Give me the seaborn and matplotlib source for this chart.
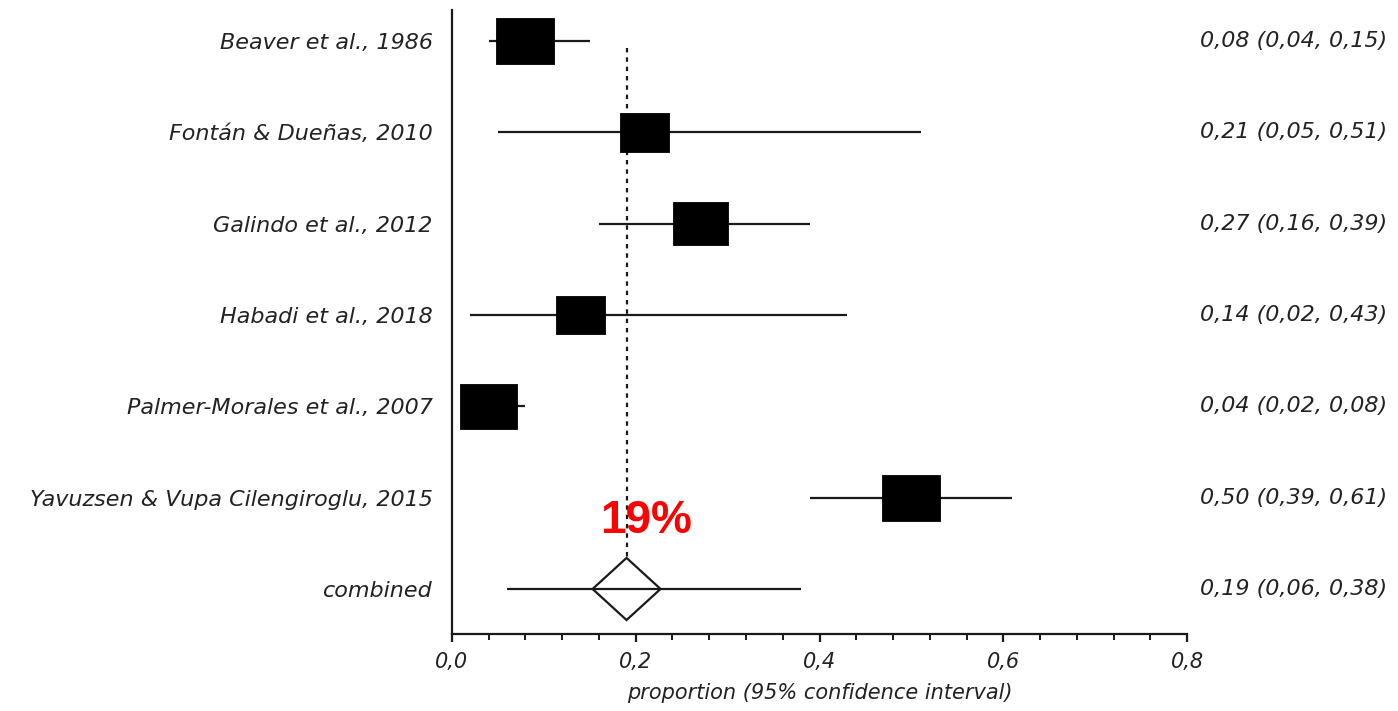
import numpy as np
import pandas as pd
import matplotlib
matplotlib.use("Agg")
import matplotlib.pyplot as plt
import matplotlib.transforms as mtransforms
from matplotlib.path import Path
from matplotlib.ticker import MultipleLocator, FuncFormatter
import seaborn as sns

# ---- data -------------------------------------------------------------
studies = [
    "Beaver et al., 1986",
    "Fontán & Dueñas, 2010",
    "Galindo et al., 2012",
    "Habadi et al., 2018",
    "Palmer-Morales et al., 2007",
    "Yavuzsen & Vupa Cilengiroglu, 2015",
]
estimates = [0.08, 0.21, 0.27, 0.14, 0.04, 0.50]
ci_low = [0.04, 0.05, 0.16, 0.02, 0.02, 0.39]
ci_high = [0.15, 0.51, 0.39, 0.43, 0.08, 0.61]
weights = [18.9, 13.5, 17.0, 13.5, 18.2, 18.9]  # relative study weights (%)

pooled_label = "combined"
pooled_est = 0.19
pooled_low = 0.06
pooled_high = 0.38

x_ticks = [0.0, 0.2, 0.4, 0.6, 0.8]
x_label = "proportion (95% confidence interval)"

# ---- style ------------------------------------------------------------
sns.set_style("ticks")
plt.rcParams["font.family"] = ["DejaVu Sans"]
TEXT_COLOR = "#222222"
LINE_COLOR = "#1a1a1a"
FS = 16

fig = plt.figure(figsize=(13.98, 7.11), dpi=100)
ax = fig.add_axes([0.3233, 0.1083, 0.5258, 0.8776])

n = len(studies)
df = pd.DataFrame({
    "study": studies,
    "pos": np.arange(n),
    "est": estimates,
    "lo": ci_low,
    "hi": ci_high,
    "weight": weights,
})

# confidence interval lines
ax.hlines(df["pos"], df["lo"], df["hi"], color=LINE_COLOR, lw=1.6, zorder=2)

# weight boxes (area proportional to weight)
box = Path([(-1.26, -1), (1.26, -1), (1.26, 1), (-1.26, 1), (-1.26, -1)],
           [Path.MOVETO, Path.LINETO, Path.LINETO, Path.LINETO, Path.CLOSEPOLY])
sns.scatterplot(data=df, x="est", y="pos", size="weight",
                sizes=(0, 1744), size_norm=(0, max(weights)),
                marker=box, color="black", edgecolor="black", linewidth=0.6,
                legend=False, ax=ax, zorder=3)

# pooled estimate: diamond + CI + reference line
pooled_pos = n
half_w, half_h = 0.037, 0.34
ax.fill([pooled_est - half_w, pooled_est, pooled_est + half_w, pooled_est],
        [pooled_pos, pooled_pos - half_h, pooled_pos, pooled_pos + half_h],
        facecolor="white", edgecolor=LINE_COLOR, lw=1.6, zorder=2)
ax.hlines(pooled_pos, pooled_low, pooled_high, color=LINE_COLOR, lw=1.6, zorder=3)
ax.vlines(pooled_est, 0.08, pooled_pos - half_h, color=LINE_COLOR, lw=1.6,
          linestyles=(0, (2.0, 2.2)), zorder=1)
ax.text(pooled_est + 0.021, pooled_pos - 0.74, f"{pooled_est * 100:.0f}%",
        color="#ff0000", fontsize=33, fontweight="bold", family="Liberation Sans",
        ha="center", va="center", zorder=4)

# values column on the right
def fmt(v):
    return f"{v:.2f}".replace(".", ",")

trans = mtransforms.blended_transform_factory(fig.transFigure, ax.transData)
rows = list(zip(estimates, ci_low, ci_high)) + [(pooled_est, pooled_low, pooled_high)]
for i, (e, lo, hi) in enumerate(rows):
    ax.text(1200 / 1398, i, f"{fmt(e)} ({fmt(lo)}, {fmt(hi)})", transform=trans,
            ha="left", va="center", fontsize=FS, style="italic", color=TEXT_COLOR)

# axes
ax.set_xlim(0, 0.8)
ax.set_ylim(6.493, -0.339)
ax.set_yticks(list(range(n + 1)))
ax.set_yticklabels(studies + [pooled_label], fontsize=FS, style="italic",
                   color=TEXT_COLOR)
ax.tick_params(axis="y", length=0, pad=14)
ax.set_xticks(x_ticks)
ax.xaxis.set_minor_locator(MultipleLocator(0.04))
ax.xaxis.set_major_formatter(FuncFormatter(lambda v, p: f"{v:.1f}".replace(".", ",")))
ax.tick_params(axis="x", which="major", length=6, width=1.6, pad=7,
               labelsize=15, color=LINE_COLOR, labelcolor=TEXT_COLOR)
ax.tick_params(axis="x", which="minor", length=4, width=1.4, color=LINE_COLOR)
for lab in ax.get_xticklabels():
    lab.set_style("italic")
ax.set_xlabel(x_label, fontsize=15, style="italic", color=TEXT_COLOR, labelpad=8)
ax.set_ylabel("")

sns.despine(ax=ax, top=True, right=True)
for side in ("left", "bottom"):
    ax.spines[side].set_linewidth(1.6)
    ax.spines[side].set_color(LINE_COLOR)

fig.savefig("out.png", dpi=100)
